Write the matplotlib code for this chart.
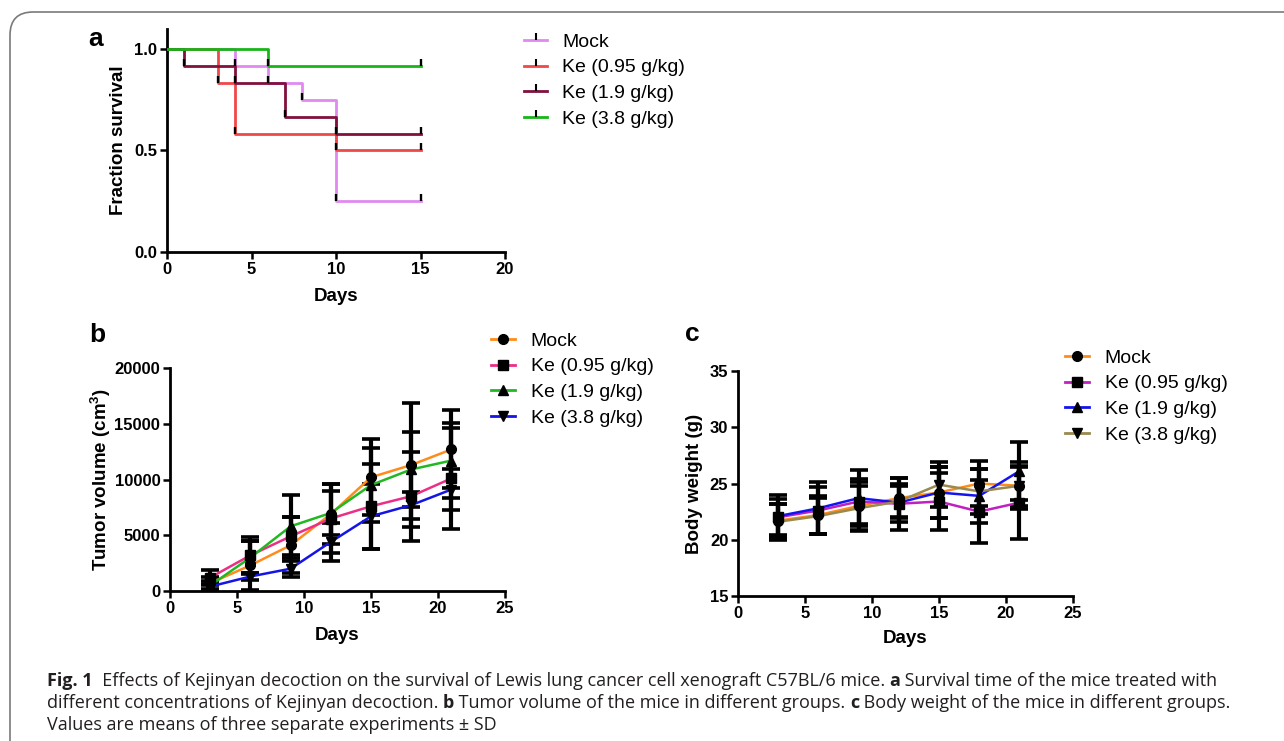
import matplotlib
matplotlib.use("Agg")
import matplotlib.pyplot as plt
from matplotlib.lines import Line2D
from matplotlib.patches import FancyBboxPatch
from matplotlib import font_manager

# ---------------- data ----------------
groups = ["Mock", "Ke (0.95 g/kg)", "Ke (1.9 g/kg)", "Ke (3.8 g/kg)"]

# panel a: Kaplan-Meier survival
surv_days_mock = [0, 4, 6, 8, 10, 15]
surv_mock = [1.0, 0.9167, 0.8333, 0.75, 0.25, 0.25]
surv_days_low = [0, 3, 4, 10, 15]
surv_low = [1.0, 0.8333, 0.5833, 0.5, 0.5]
surv_days_mid = [0, 1, 4, 7, 10, 15]
surv_mid = [1.0, 0.9167, 0.8333, 0.6667, 0.5833, 0.5833]
surv_days_high = [0, 6, 15]
surv_high = [1.0, 0.9167, 0.9167]

# panels b, c
days = [3, 6, 9, 12, 15, 18, 21]
tumor_mock = [700, 2300, 4100, 6900, 10200, 11300, 12700]
tumor_low = [1200, 3200, 4900, 6500, 7600, 8500, 10100]
tumor_mid = [500, 3000, 5800, 7000, 9500, 10900, 11700]
tumor_high = [400, 1300, 2000, 4400, 6700, 7700, 9100]
tumor_sd_mock = [600, 2200, 2500, 2700, 3400, 5600, 3500]
tumor_sd_low = [700, 1600, 1700, 3100, 3800, 4000, 4500]
tumor_sd_mid = [400, 1500, 2800, 2000, 3300, 3400, 3400]
tumor_sd_high = [200, 300, 700, 1700, 2900, 1200, 1800]

weight_mock = [21.7, 22.2, 23.0, 23.7, 24.2, 25.0, 24.8]
weight_low = [22.0, 22.6, 23.4, 23.2, 23.4, 22.5, 23.3]
weight_mid = [22.1, 22.8, 23.7, 23.3, 24.2, 23.9, 26.1]
weight_high = [21.6, 22.1, 22.8, 23.4, 24.9, 24.3, 24.8]
weight_sd_mock = [1.5, 1.7, 2.1, 1.8, 2.3, 2.0, 2.1]
weight_sd_low = [1.6, 2.1, 2.0, 2.3, 2.5, 2.8, 3.2]
weight_sd_mid = [1.9, 2.3, 2.5, 1.7, 2.3, 2.4, 2.6]
weight_sd_high = [1.6, 1.6, 2.0, 1.4, 2.0, 2.0, 1.8]

# ---------------- style ----------------
W, H = 1284, 741
fig = plt.figure(figsize=(W / 100, H / 100), dpi=100)
FONT = ["Liberation Sans", "DejaVu Sans"]
plt.rcParams["font.family"] = FONT
plt.rcParams["mathtext.default"] = "regular"

TICK_FS = 12
LAB_FS = 13.5
LEG_FS = 14

def ax_at(l, r, b, t):
    return fig.add_axes([l / W, 1 - b / H, (r - l) / W, (b - t) / H])

def style(ax):
    for s in ["top", "right"]:
        ax.spines[s].set_visible(False)
    for s in ["left", "bottom"]:
        ax.spines[s].set_linewidth(2.0)
    ax.tick_params(direction="out", length=5, width=1.8, labelsize=TICK_FS, pad=2)
    for lab in ax.get_xticklabels() + ax.get_yticklabels():
        lab.set_fontweight("bold")

# ---------------- panel a ----------------
ax_a = ax_at(167, 505, 252, 28.7)
surv_colors = ["#e08af0", "#f04848", "#80103c", "#18b418"]
surv_sets = [(surv_days_mock, surv_mock), (surv_days_low, surv_low),
             (surv_days_mid, surv_mid), (surv_days_high, surv_high)]
for (d, s), c, z in zip(surv_sets, surv_colors, [2, 3, 4, 5]):
    ax_a.step(d, s, where="post", color=c, lw=2.0, zorder=z)
    ax_a.plot(d[1:], s[1:], ls="none", marker=2, ms=5, mec="k", mew=1.7, zorder=6)
ax_a.set_xlim(0, 20)
ax_a.set_ylim(0, 1.1)
ax_a.set_xticks([0, 5, 10, 15, 20])
ax_a.set_yticks([0.0, 0.5, 1.0])
ax_a.set_yticklabels(["0.0", "0.5", "1.0"])
style(ax_a)
ax_a.set_xlabel("Days", fontsize=LAB_FS, fontweight="bold", labelpad=8)
ax_a.set_ylabel("Fraction survival", fontsize=LAB_FS, fontweight="bold", labelpad=5)
h_a = [Line2D([], [], color=c, lw=2, marker=2, ms=5, mec="k", mew=1.5) for c in surv_colors]
fig.legend(h_a, groups, loc="upper left", bbox_to_anchor=(524 / W, 1 - 33 / H),
           frameon=False, fontsize=LEG_FS, handlelength=1.2, handletextpad=0.75,
           labelspacing=0.42, borderpad=0, borderaxespad=0)

# ---------------- panels b and c ----------------
markers = ["o", "s", "^", "v"]

def growth_panel(ax, means, sds, colors, ylim, yticks):
    for m, sd, c, mk in zip(means, sds, colors, markers):
        ax.plot(days, m, color=c, lw=1.8, zorder=3)
    for m, sd, c, mk in zip(means, sds, colors, markers):
        ax.errorbar(days, m, yerr=sd, fmt="none", ecolor="k", elinewidth=3.0,
                    capsize=6.5, capthick=2.6, zorder=2)
        ax.plot(days, m, ls="none", marker=mk, ms=7, color="k", zorder=4)
    ax.set_xlim(0, 25)
    ax.set_ylim(*ylim)
    ax.set_xticks([0, 5, 10, 15, 20, 25])
    ax.set_yticks(yticks)
    style(ax)

ax_b = ax_at(170, 505, 591, 368)
b_colors = ["#ff8c1a", "#ec2f86", "#22b822", "#1414e6"]
growth_panel(ax_b, [tumor_mock, tumor_low, tumor_mid, tumor_high],
             [tumor_sd_mock, tumor_sd_low, tumor_sd_mid, tumor_sd_high],
             b_colors, (0, 20000), [0, 5000, 10000, 15000, 20000])
ax_b.set_xlabel("Days", fontsize=LAB_FS, fontweight="bold", labelpad=8)
ax_b.set_ylabel("Tumor volume (cm$^3$)", fontsize=LAB_FS, fontweight="bold", labelpad=1)

ax_c = ax_at(738, 1073, 596, 371)
c_colors = ["#ff8c1a", "#c020c0", "#1414f0", "#9a8a4e"]
growth_panel(ax_c, [weight_mock, weight_low, weight_mid, weight_high],
             [weight_sd_mock, weight_sd_low, weight_sd_mid, weight_sd_high],
             c_colors, (15, 35), [15, 20, 25, 30, 35])
ax_c.set_xlabel("Days", fontsize=LAB_FS, fontweight="bold", labelpad=7)
ax_c.set_ylabel("Body weight (g)", fontsize=LAB_FS, fontweight="bold", labelpad=5)

def growth_legend(colors, x, y):
    hs = [Line2D([], [], color=c, lw=2, marker=mk, ms=7, mfc="k", mec="k")
          for c, mk in zip(colors, markers)]
    fig.legend(hs, groups, loc="upper left", bbox_to_anchor=(x / W, 1 - y / H),
               frameon=False, fontsize=LEG_FS, handlelength=1.25, handletextpad=0.8,
               labelspacing=0.42, borderpad=0, borderaxespad=0)

growth_legend(b_colors, 491, 332)
growth_legend(c_colors, 1065, 349)

# panel letters
for txt, x, y in [("a", 96, 39), ("b", 97, 335), ("c", 692, 334)]:
    fig.text(x / W, 1 - y / H, txt, fontsize=19, fontweight="bold", ha="center", va="center")

# ---------------- border ----------------
border = FancyBboxPatch((10 / W, -0.1), 1.2, (H - 12) / H + 0.1,
                        boxstyle="round,pad=0,rounding_size=0.018",
                        transform=fig.transFigure, fill=False,
                        edgecolor="#7a7a7a", lw=1.2, mutation_aspect=W / H)
fig.patches.append(border)

# ---------------- caption ----------------
names = {f.name for f in font_manager.fontManager.ttflist}
capfam = [n for n in ["Liberation Sans Narrow", "Open Sans", "Liberation Sans"] if n in names][:1] + ["DejaVu Sans"]
renderer = fig.canvas.get_renderer()
cap_lines = [
    [("Fig. 1", True), ("  Effects of Kejinyan decoction on the survival of Lewis lung cancer cell xenograft C57BL/6 mice. ", False),
     ("a", True), (" Survival time of the mice treated with", False)],
    [("different concentrations of Kejinyan decoction. ", False), ("b", True),
     (" Tumor volume of the mice in different groups. ", False), ("c", True),
     (" Body weight of the mice in different groups.", False)],
    [("Values are means of three separate experiments \u00b1 SD", False)],
]
cap_color = "#231f20"

def line_width(segs, fs):
    tot = 0
    for s, b in segs:
        t = fig.text(0, 0, s, fontsize=fs, fontweight="bold" if b else "normal", family=capfam)
        tot += t.get_window_extent(renderer).width
        t.remove()
    return tot

fs = 11.5
w1 = line_width(cap_lines[0], fs)
fs = max(8.0, min(13.0, fs * 1215 / w1))

for segs, yb in zip(cap_lines, [686, 708, 730]):
    x = 47
    for s, b in segs:
        t = fig.text(x / W, 1 - yb / H, s, fontsize=fs, fontweight="bold" if b else "normal",
                     family=capfam, va="baseline", color=cap_color)
        x += t.get_window_extent(renderer).width

fig.savefig("out.png", dpi=100)
